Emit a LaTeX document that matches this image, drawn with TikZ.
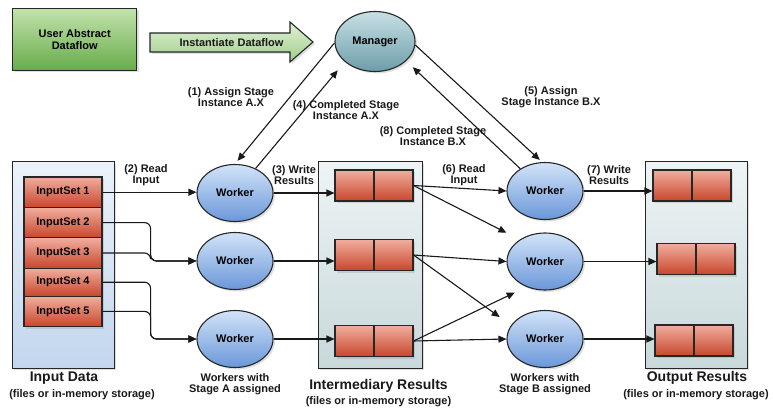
\documentclass[tikz,border=0pt]{standalone}
\usepackage{fontspec}
\setmainfont{Liberation Sans}
\usetikzlibrary{shadows,arrows.meta,shapes.geometric}

\definecolor{edge}{HTML}{262626}
\definecolor{grtop}{HTML}{C2E2AC}
\definecolor{grbot}{HTML}{68AC4A}
\definecolor{artop}{HTML}{E0F1D6}
\definecolor{arbot}{HTML}{9FCE8A}
\definecolor{mgtop}{HTML}{C8E0E6}
\definecolor{mgbot}{HTML}{6C9DA9}
\definecolor{wktop}{HTML}{D2E3F8}
\definecolor{wkbot}{HTML}{6A97D9}
\definecolor{rdtop}{HTML}{F0AE9E}
\definecolor{rdbot}{HTML}{C8462C}
\definecolor{intop}{HTML}{EBF2FA}
\definecolor{inbot}{HTML}{C2D6EE}
\definecolor{cntop}{HTML}{EEF4F5}
\definecolor{cnbot}{HTML}{C8D8DB}

\newcommand\lblfont{\fontsize{11}{11.5}\selectfont\bfseries}
\newcommand\ttlfont{\fontsize{14}{16}\selectfont\bfseries}

\tikzset{
  shad/.style={drop shadow={shadow xshift=2pt, shadow yshift=-2pt, opacity=0.25}},
  conn/.style={line width=1.1pt, draw=black!90, -{Triangle[length=8pt,width=7pt]}},
  lbl/.style={font=\lblfont, align=center, inner sep=0pt, text=black!90},
  ttl/.style={font=\ttlfont, align=center, inner sep=0pt, text=black!90},
  greenbox/.style={rectangle, draw=edge, line width=1.2pt, top color=grtop,
    bottom color=grbot, minimum width=124pt, minimum height=62pt,
    font=\lblfont, align=center, shad},
  holder/.style={rectangle, draw=edge, line width=1pt, minimum width=102pt,
    minimum height=206pt, inner sep=0pt, shad},
  redcell/.style={rectangle, draw=edge, line width=1.1pt, top color=rdtop,
    bottom color=rdbot, minimum width=78pt, minimum height=#1, inner sep=0pt,
    font=\lblfont, shad},
  managernode/.style={ellipse, draw=edge, line width=1.1pt, top color=mgtop,
    bottom color=mgbot, minimum width=80pt, minimum height=60pt, inner sep=0pt,
    font=\lblfont, shad},
  workernode/.style={ellipse, draw=edge, line width=1.1pt, top color=wktop,
    bottom color=wkbot, minimum width=76pt, minimum height=57pt, inner sep=0pt,
    font=\lblfont, shad},
}

\begin{document}
\begin{tikzpicture}[x=1pt, y=-1pt]
\useasboundingbox (0,0) rectangle (773,414);

% abstract dataflow and its instantiation
\node[greenbox] (uad) at (74.7,39.5) {User Abstract\\Dataflow};
\path[draw=edge, line width=1.1pt, top color=artop, bottom color=arbot, shad]
  (150,33) -- (290,33) -- (290,22) -- (313,42) -- (290,62) -- (290,52)
  -- (150,52) -- cycle;
\node[lbl] (inst) at (231.5,42.5) {Instantiate Dataflow};

\node[managernode] (mgr) at (375,41.5) {Manager};

% storage containers
\node[holder, top color=intop, bottom color=inbot] (indata) at (63,265) {};
\node[holder, top color=cntop, bottom color=cnbot, minimum width=104pt] (imd) at (370,265) {};
\node[holder, top color=cntop, bottom color=cnbot] (outd) at (696,265) {};

% input sets
\node[redcell=30.4pt] (s1) at (63,192.2) {InputSet 1};
\node[redcell=30.4pt] (s2) at (63,222.6) {InputSet 2};
\node[redcell=30.4pt] (s3) at (63,253.0) {InputSet 3};
\node[redcell=28pt]   (s4) at (63,282.2) {InputSet 4};
\node[redcell=30.4pt] (s5) at (63,311.4) {InputSet 5};

% intermediary result cells
\node[redcell=31pt] (ib1) at (374,185.5) {};
\node[redcell=31pt] (ib2) at (374,255) {};
\node[redcell=31pt] (ib3) at (374,341) {};
% output result cells
\node[redcell=31pt] (ob1) at (692,185.5) {};
\node[redcell=31pt] (ob2) at (696,259) {};
\node[redcell=31pt] (ob3) at (694,340.5) {};
\foreach \c in {ib1,ib2,ib3,ob1,ob2,ob3}
  \draw[edge, line width=1.1pt] (\c.north) -- (\c.south);

% workers
\node[workernode] (wa1) at (235,193) {Worker};
\node[workernode] (wa2) at (235,261) {Worker};
\node[workernode] (wa3) at (235,339) {Worker};
\node[workernode] (wb1) at (545,191) {Worker};
\node[workernode] (wb2) at (545,261.5) {Worker};
\node[workernode] (wb3) at (545,339) {Worker};

% manager <-> workers
\draw[conn, shorten >=4pt] (mgr.182) -- (wa1.north);
\draw[conn, shorten >=11pt] (wa1.50) -- (mgr.214);
\draw[conn, shorten >=3pt] (mgr.355) -- (wb1.96);
\draw[conn, shorten >=9pt] (wb1.138) -- (mgr.328);

% stage A: read input, write results
\draw[conn] (s1.east) -- (s1.east -| wa1.west);
\draw[conn, rounded corners=6pt] (s2.east) -- ++(48,0) |- (wa2.west);
\draw[conn, rounded corners=6pt] (s3.east) -- ++(48,0) |- (wa2.west);
\draw[conn, rounded corners=6pt] (s4.east) -- ++(48,0) |- (wa3.west);
\draw[conn, rounded corners=6pt] (s5.east) -- ++(48,0) |- (wa3.west);
\draw[conn] (wa1.east) -- (wa1.east -| ib1.west);
\draw[conn] (wa2.east) -- (wa2.east -| ib2.west);
\draw[conn] (wa3.east) -- (wa3.east -| ib3.west);

% stage B: read intermediary results, write output
\draw[conn] (ib1.east) -- (wb1.west);
\draw[conn, shorten >=15pt] (ib1.east) -- (wb2.139);
\draw[conn] (ib2.east) -- (wb2.west);
\draw[conn, shorten >=14pt] (ib2.east) -- (wb3.158);
\draw[conn, shorten >=13pt] (ib3.east) -- (wb2.234);
\draw[conn] (ib3.east) -- (wb3.west);
\draw[conn] (wb1.east) -- (wb1.east -| ob1.west);
\draw[conn] (wb2.east) -- (wb2.east -| ob2.west);
\draw[conn] (wb3.east) -- (wb3.east -| ob3.west);

% step labels
\node[lbl] (l1) at (231,97) {(1) Assign Stage\\Instance A.X};
\node[lbl] (l4) at (346,110) {(4) Completed Stage\\Instance A.X};
\node[lbl] (l8) at (433,136) {(8) Completed Stage\\Instance B.X};
\node[lbl] (l5) at (551,97) {(5) Assign\\Stage Instance B.X};
\node[lbl] (l2) at (146,175) {(2) Read\\Input};
\node[lbl] (l3) at (294,175) {(3) Write\\Results};
\node[lbl] (l6) at (464,175) {(6) Read\\Input};
\node[lbl] (l7) at (609,175) {(7) Write\\Results};

% captions
\node[ttl] (tin) at (64,378) {Input Data};
\node[lbl] (tins) at (82,395) {(files or in-memory storage)};
\node[ttl] (tim) at (378.5,386) {Intermediary Results};
\node[lbl] (tims) at (378.5,402) {(files or in-memory storage)};
\node[ttl] (tout) at (697,378) {Output Results};
\node[lbl] (touts) at (696,395) {(files or in-memory storage)};
\node[lbl] (twa) at (235,384) {Workers with\\Stage A assigned};
\node[lbl] (twb) at (545,384) {Workers with\\Stage B assigned};
\end{tikzpicture}
\end{document}
